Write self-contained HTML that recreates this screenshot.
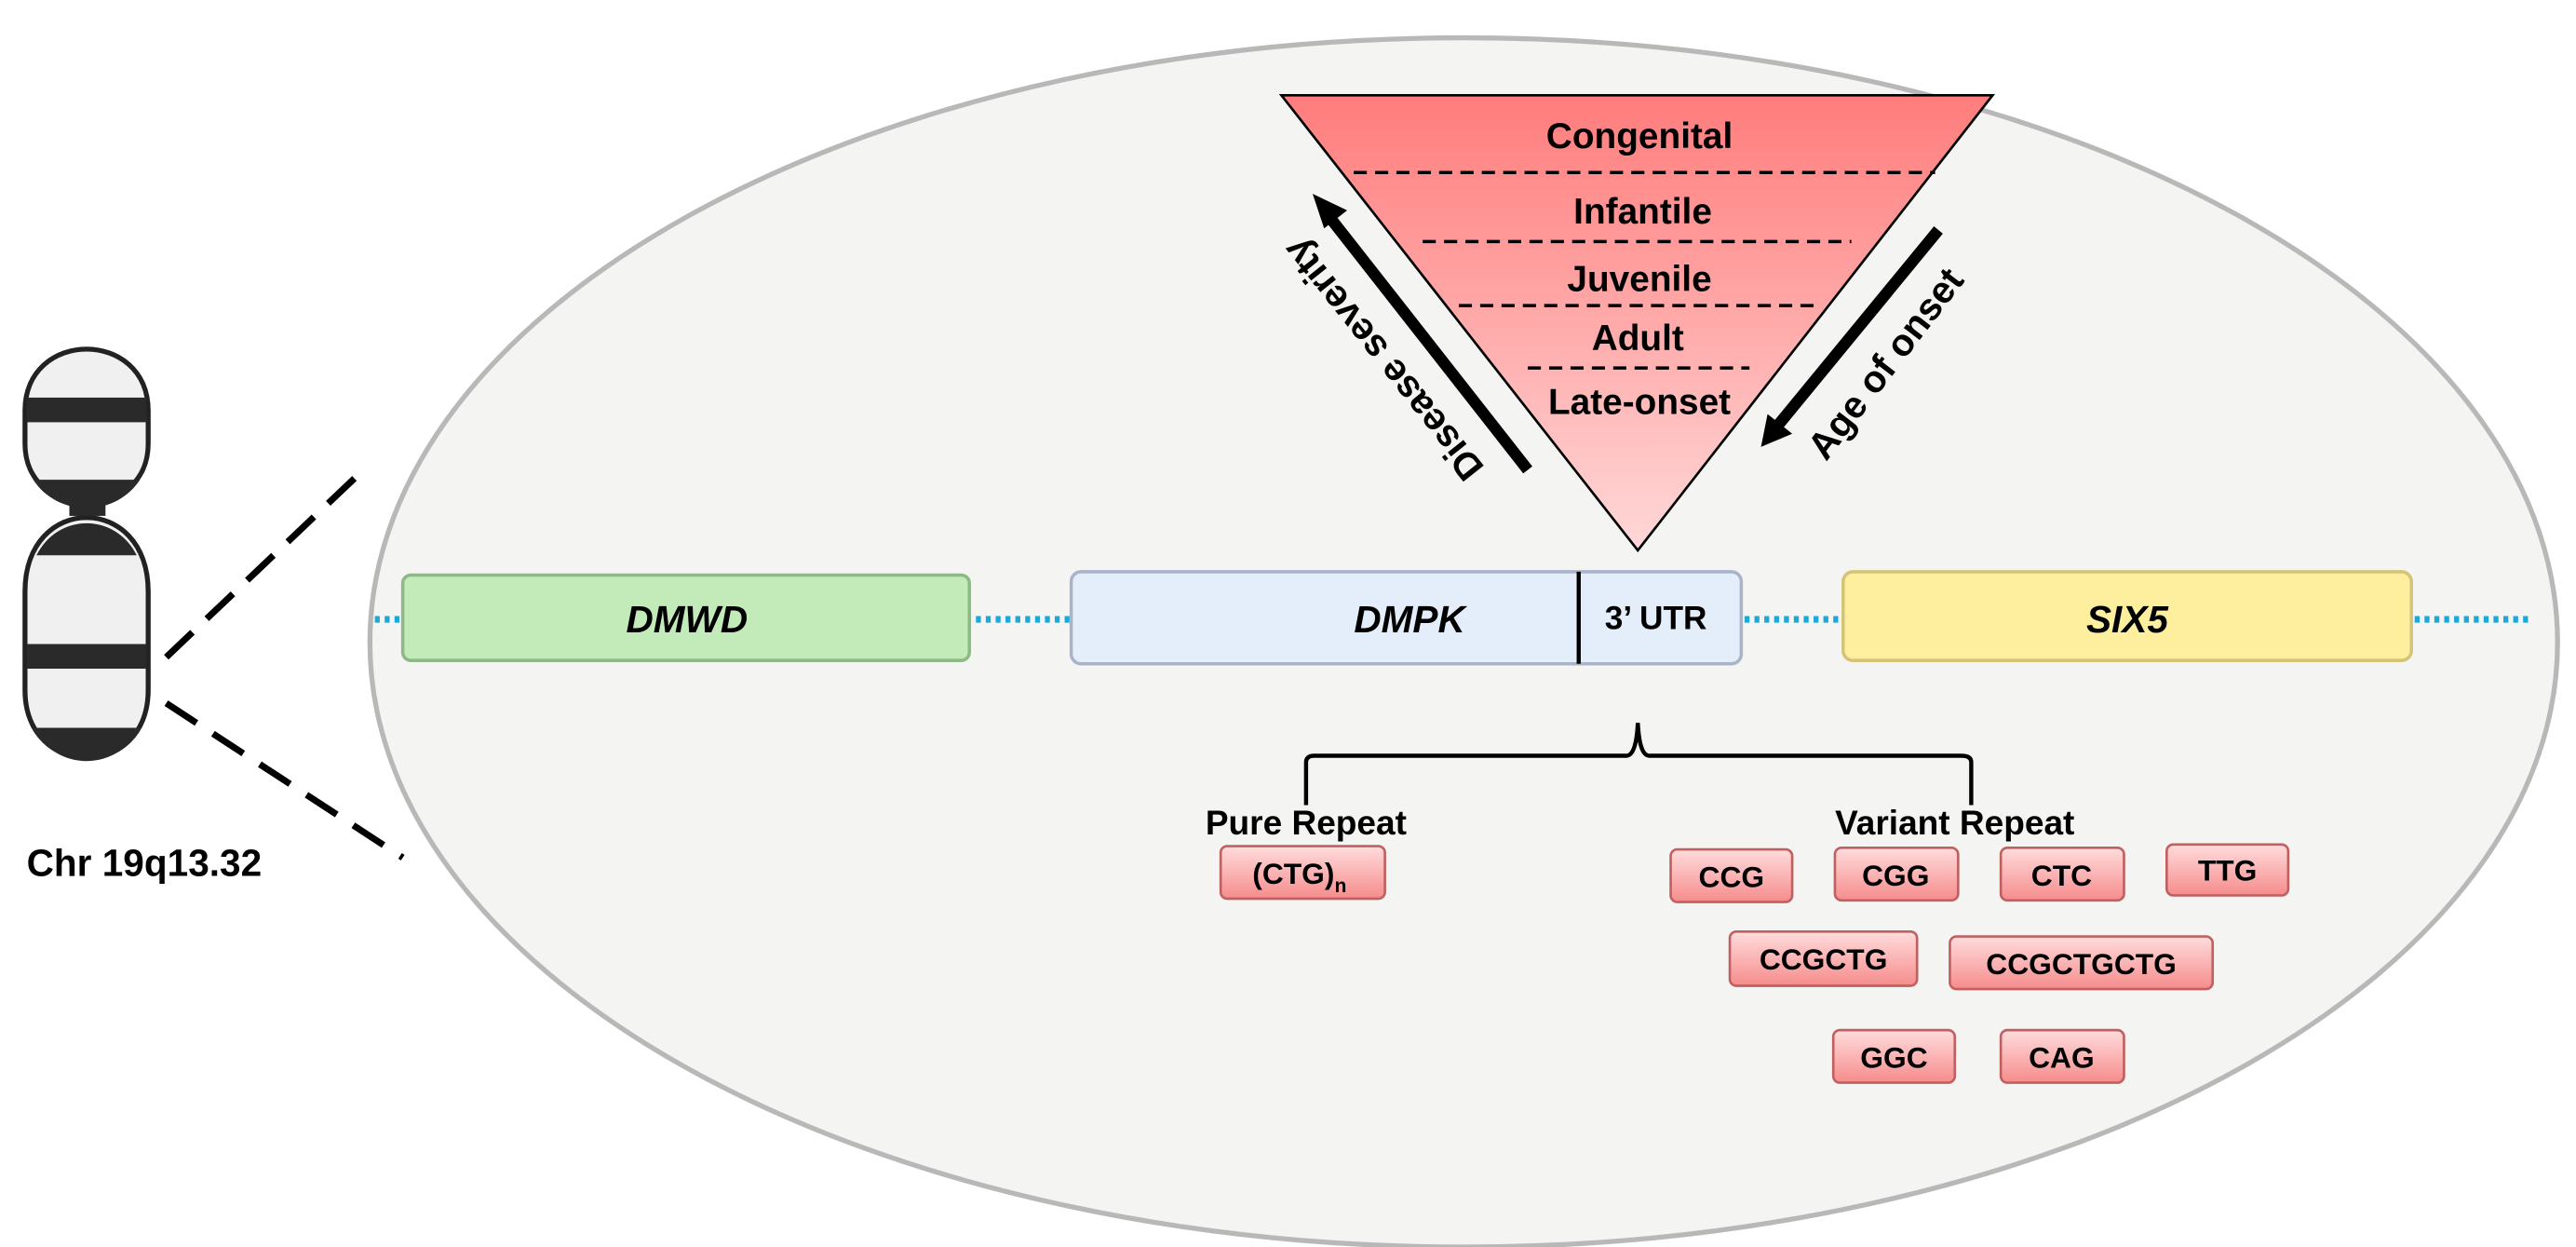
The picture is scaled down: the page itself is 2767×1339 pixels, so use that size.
<!DOCTYPE html>
<html><head><meta charset="utf-8"><style>html,body{margin:0;padding:0;background:#fff}svg{display:block}</style></head>
<body>
<svg width="2767" height="1339" viewBox="0 0 1568 759" xmlns="http://www.w3.org/2000/svg" font-family="Liberation Sans, sans-serif" font-weight="bold">
<defs>
<linearGradient id="tri" x1="0" y1="0" x2="0" y2="1"><stop offset="0" stop-color="#ff7c7c"/><stop offset="1" stop-color="#ffd8d8"/></linearGradient>
<linearGradient id="box" x1="0" y1="0" x2="0" y2="1"><stop offset="0" stop-color="#ffdcdc"/><stop offset="1" stop-color="#f68c8c"/></linearGradient>
</defs>
<ellipse cx="891" cy="391" rx="666" ry="368" fill="#f4f4f2" stroke="#b8b8b8" stroke-width="3"/>
<!-- chromosome -->
<g stroke="#222" stroke-width="3">
<path d="M15,250 C15,200 90,200 90,250 L90,270 C90,318 15,318 15,270 Z" fill="#f0f0f0"/>
<path d="M15,360 C15,300 90,300 90,360 L90,420 C90,475 15,475 15,420 Z" fill="#f0f0f0"/>
</g>
<rect x="16" y="242" width="73" height="15" fill="#2a2a2a"/>
<rect x="16" y="392" width="73" height="15" fill="#2a2a2a"/>
<path d="M20,292 C35,315 70,315 85,292 Z" fill="#2a2a2a"/>
<path d="M22,338 C35,312 70,312 83,338 Z" fill="#2a2a2a"/>
<path d="M19,443 C35,470 70,470 86,443 Z" fill="#2a2a2a"/>
<rect x="42" y="300" width="22" height="14" fill="#2a2a2a"/>
<line x1="101" y1="400" x2="220" y2="287" stroke="#000" stroke-width="4" stroke-dasharray="22,12"/>
<line x1="101" y1="428" x2="245" y2="522" stroke="#000" stroke-width="4" stroke-dasharray="22,12"/>
<text x="16" y="533" font-size="23">Chr 19q13.32</text>
<line x1="228" y1="377" x2="1540" y2="377" stroke="#1ea8d8" stroke-width="4" stroke-dasharray="3,3"/>
<rect x="245" y="350" width="345" height="52" rx="5" fill="#c3eab9" stroke="#8fb888" stroke-width="2"/>
<text x="418" y="385" font-size="23" font-style="italic" text-anchor="middle">DMWD</text>
<rect x="652" y="348" width="408" height="56" rx="6" fill="#e4eefb" stroke="#a8b4c8" stroke-width="2"/>
<line x1="961" y1="348" x2="961" y2="404" stroke="#000" stroke-width="2.5"/>
<text x="858" y="385" font-size="23" font-style="italic" text-anchor="middle">DMPK</text>
<text x="1008" y="383" font-size="20" text-anchor="middle">3’ UTR</text>
<rect x="1122" y="348" width="346" height="54" rx="6" fill="#fdef9d" stroke="#d4c47a" stroke-width="2"/>
<text x="1295" y="385" font-size="23" font-style="italic" text-anchor="middle">SIX5</text>
<polygon points="780,58 1213,58 997,335" fill="url(#tri)" stroke="#000" stroke-width="1.5"/>
<g font-size="22" text-anchor="middle">
<text x="998" y="90">Congenital</text>
<text x="1000" y="136">Infantile</text>
<text x="998" y="177">Juvenile</text>
<text x="997" y="213">Adult</text>
<text x="998" y="252">Late-onset</text>
</g>
<g stroke="#000" stroke-width="2" stroke-dasharray="8,5">
<line x1="824" y1="105" x2="1178" y2="105"/>
<line x1="866" y1="147" x2="1127" y2="147"/>
<line x1="888" y1="186" x2="1105" y2="186"/>
<line x1="930" y1="224" x2="1065" y2="224"/>
</g>
<line x1="930" y1="286" x2="810" y2="133" stroke="#000" stroke-width="7"/>
<polygon points="799,118 820,128 806,139" fill="#000"/>
<text x="0" y="0" font-size="23" text-anchor="middle" transform="translate(848,214) rotate(-128.5)">Disease severity</text>
<line x1="1180" y1="140" x2="1083" y2="258" stroke="#000" stroke-width="7"/>
<polygon points="1072,272 1076,252 1091,264" fill="#000"/>
<text x="0" y="0" font-size="23" text-anchor="middle" transform="translate(1154,226) rotate(-52.5)">Age of onset</text>
<path d="M795,490 L795,464 Q795,460 800,460 L990,460 Q996,460 997,440 Q998,460 1004,460 L1194,460 Q1200,460 1200,464 L1200,490" fill="none" stroke="#000" stroke-width="2.5"/>
<text x="795" y="508" font-size="21" text-anchor="middle">Pure Repeat</text>
<text x="1190" y="508" font-size="21" text-anchor="middle">Variant Repeat</text>
<g fill="url(#box)" stroke="#c06060" stroke-width="1.5">
<rect x="743" y="515" width="100" height="32" rx="4"/>
<rect x="1017" y="517" width="74" height="32" rx="4"/>
<rect x="1117" y="516" width="75" height="32" rx="4"/>
<rect x="1218" y="516" width="75" height="32" rx="4"/>
<rect x="1319" y="514" width="74" height="31" rx="4"/>
<rect x="1053" y="567" width="114" height="33" rx="4"/>
<rect x="1187" y="570" width="160" height="32" rx="4"/>
<rect x="1116" y="627" width="74" height="32" rx="4"/>
<rect x="1218" y="627" width="75" height="32" rx="4"/>
</g>
<g font-size="18" text-anchor="middle">
<text x="791" y="538">(CTG)<tspan font-size="12" dy="5">n</tspan></text>
<text x="1054" y="540">CCG</text>
<text x="1154" y="539">CGG</text>
<text x="1255" y="539">CTC</text>
<text x="1356" y="536">TTG</text>
<text x="1110" y="590">CCGCTG</text>
<text x="1267" y="593">CCGCTGCTG</text>
<text x="1153" y="650">GGC</text>
<text x="1255" y="650">CAG</text>
</g>
</svg>
</body></html>
